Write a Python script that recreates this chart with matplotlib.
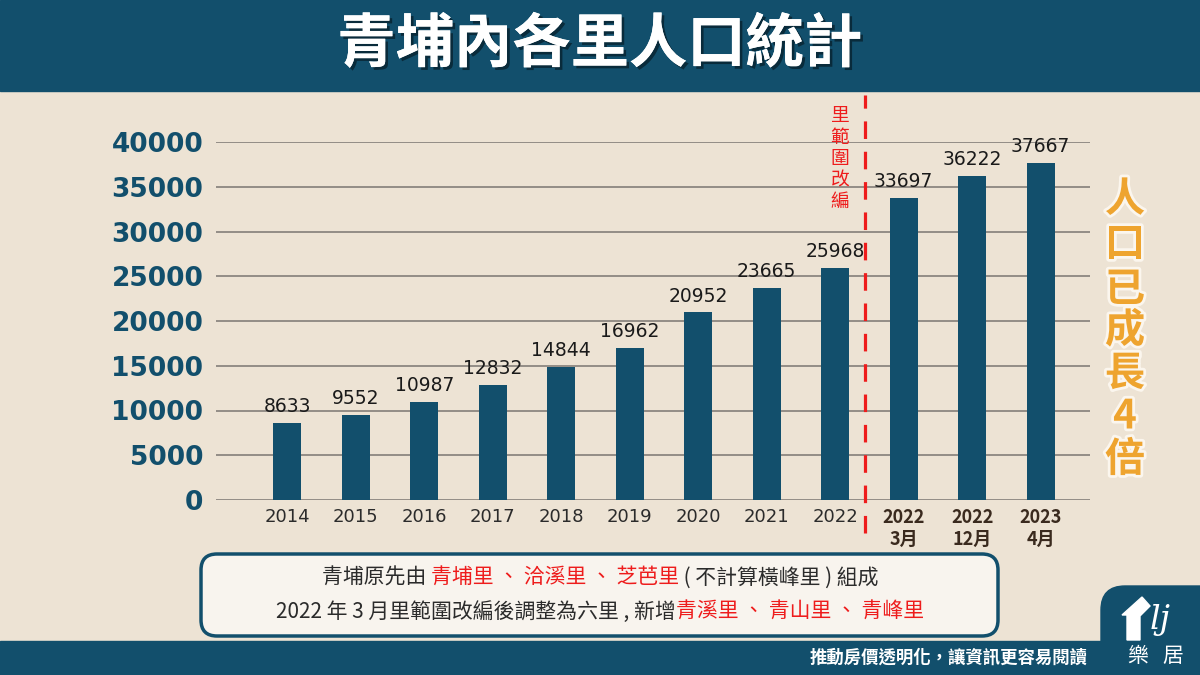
import matplotlib
matplotlib.use("Agg")
import matplotlib.pyplot as plt
import matplotlib.patheffects as pe
from matplotlib.patches import Rectangle, FancyBboxPatch, Polygon

plt.rcParams['font.family'] = ['Noto Sans CJK TC', 'DejaVu Sans']

# data
categories = ['2014', '2015', '2016', '2017', '2018', '2019', '2020', '2021', '2022',
              '2022\n3月', '2022\n12月', '2023\n4月']
population = [8633, 9552, 10987, 12832, 14844, 16962, 20952, 23665, 25968,
              33697, 36222, 37667]
yticks = [0, 5000, 10000, 15000, 20000, 25000, 30000, 35000, 40000]

title = '青埔內各里人口統計'
side_note = '人口已成長4倍'
split_note = '里範圍改編'
line1 = [('青埔原先由 ', 'k'), ('青埔里 、 洽溪里 、 芝芭里', 'r'), (' ( 不計算橫峰里 ) 組成', 'k')]
line2 = [('2022 年 3 月里範圍改編後調整為六里 , 新增', 'k'), ('青溪里 、 青山里 、 青峰里', 'r')]
footer = '推動房價透明化，讓資訊更容易閱讀'

TEAL = '#124f6c'
BG = '#ede3d4'
RED = '#ee1c1c'
DARK = '#2b2b2b'
ORANGE = '#eea42f'

W, H = 1200, 675
fig = plt.figure(figsize=(12, 6.75), dpi=100)
fig.patch.set_facecolor(BG)


def px(x, y):
    return x / W, 1 - y / H


# decoration layer in pixel coords
deco = fig.add_axes([0, 0, 1, 1], zorder=-1)
deco.set_xlim(0, W)
deco.set_ylim(H, 0)
deco.axis('off')
deco.add_patch(Rectangle((0, 0), W, 91, color=TEAL))
deco.add_patch(Rectangle((0, 641), W, 40, color=TEAL))
deco.add_patch(FancyBboxPatch((1101, 586), 140, 120,
                              boxstyle='round,pad=0,rounding_size=24', color=TEAL))
deco.add_patch(FancyBboxPatch((201, 554), 797, 82,
                              boxstyle='round,pad=0,rounding_size=16',
                              facecolor='#f8f4ee', edgecolor=TEAL, linewidth=2.5))

# chart axes
x0, x1, y0, y1 = 216, 1090, 500, 142
ax = fig.add_axes([x0 / W, 1 - y0 / H, (x1 - x0) / W, (y0 - y1) / H])
ax.set_facecolor('none')
xs = list(range(len(categories)))
ax.bar(xs, population, width=0.41, color=TEAL, zorder=2)
ax.set_xlim(-1.04, 11.72)
ax.set_ylim(0, 40000)
ax.set_yticks(yticks)
ax.yaxis.grid(True, color='#8c8680', linewidth=1.3, zorder=0)
ax.set_axisbelow(True)
for s in ax.spines.values():
    s.set_visible(False)
ax.tick_params(length=0)
ax.tick_params(axis='y', pad=9, labelcolor=TEAL)
ax.tick_params(axis='x', pad=6)
for lab in ax.get_yticklabels():
    lab.set_fontfamily('DejaVu Sans')
    lab.set_fontweight('bold')
    lab.set_fontsize(19)
ax.set_xticks(xs)
ax.set_xticklabels(categories, linespacing=1.15)
for i, lab in enumerate(ax.get_xticklabels()):
    lab.set_fontsize(13)
    if i >= 9:
        lab.set_fontweight('bold')
        lab.set_color('#3a2a1e')
    else:
        lab.set_color(DARK)
        lab.set_fontfamily('DejaVu Sans')

for x, v in zip(xs, population):
    ax.annotate(str(v), (x, v), xytext=(0, 5), textcoords='offset points',
                ha='center', va='bottom', fontsize=13.5, color='#1a1a1a',
                family='DejaVu Sans')

# dashed split line
ax.plot([8.43, 8.43], [-3700, 45300], color=RED, linewidth=2.3,
        dashes=(5.5, 4), clip_on=False, zorder=3)
for k, ch in enumerate(split_note):
    fig.text(*px(840, 116 + k * 21.3), ch, color=RED, fontsize=13.5,
             fontweight='medium', ha='center', va='center')

# title
fig.text(*px(600, 45), title, color='white', fontsize=42, fontweight='bold',
         ha='center', va='center',
         path_effects=[pe.withSimplePatchShadow(offset=(2, -2), shadow_rgbFace='k', alpha=0.45),
                       pe.Normal()])

# side note
ys = [200, 245, 290, 331, 374, 417, 460]
for ch, y in zip(side_note, ys):
    fig.text(*px(1125, y), ch, color=ORANGE, fontsize=29, fontweight='bold',
             ha='center', va='center',
             path_effects=[pe.withStroke(linewidth=4, foreground='#fbf6ee')])

# multi-colour lines in the box
renderer = fig.canvas.get_renderer()


def colour_line(parts, cx, cy, size):
    texts = []
    for s, c in parts:
        t = deco.text(0, cy, s, color=RED if c == 'r' else DARK, fontsize=size,
                      va='center', ha='left')
        texts.append(t)
    widths = [t.get_window_extent(renderer).width for t in texts]
    x = cx - sum(widths) / 2
    for t, w in zip(texts, widths):
        t.set_x(x)
        x += w


colour_line(line1, 600, 578, 15)
colour_line(line2, 600, 612, 15)

# footer
fig.text(*px(1088, 658), footer, color='white', fontsize=12.5, fontweight='bold',
         ha='right', va='center')

# logo
deco.add_patch(Polygon([(1127, 640), (1127, 615), (1122, 615), (1142, 597),
                        (1150, 606), (1140, 616), (1140, 640)], color='white'))
deco.text(1160, 620, 'lj', color='white', fontsize=24, style='italic',
          ha='center', va='center', family='DejaVu Serif')
deco.text(1138, 656, '樂', color='white', fontsize=15, ha='center', va='center')
deco.text(1173, 656, '居', color='white', fontsize=15, ha='center', va='center')

fig.savefig('out.png', dpi=100, facecolor=BG)
